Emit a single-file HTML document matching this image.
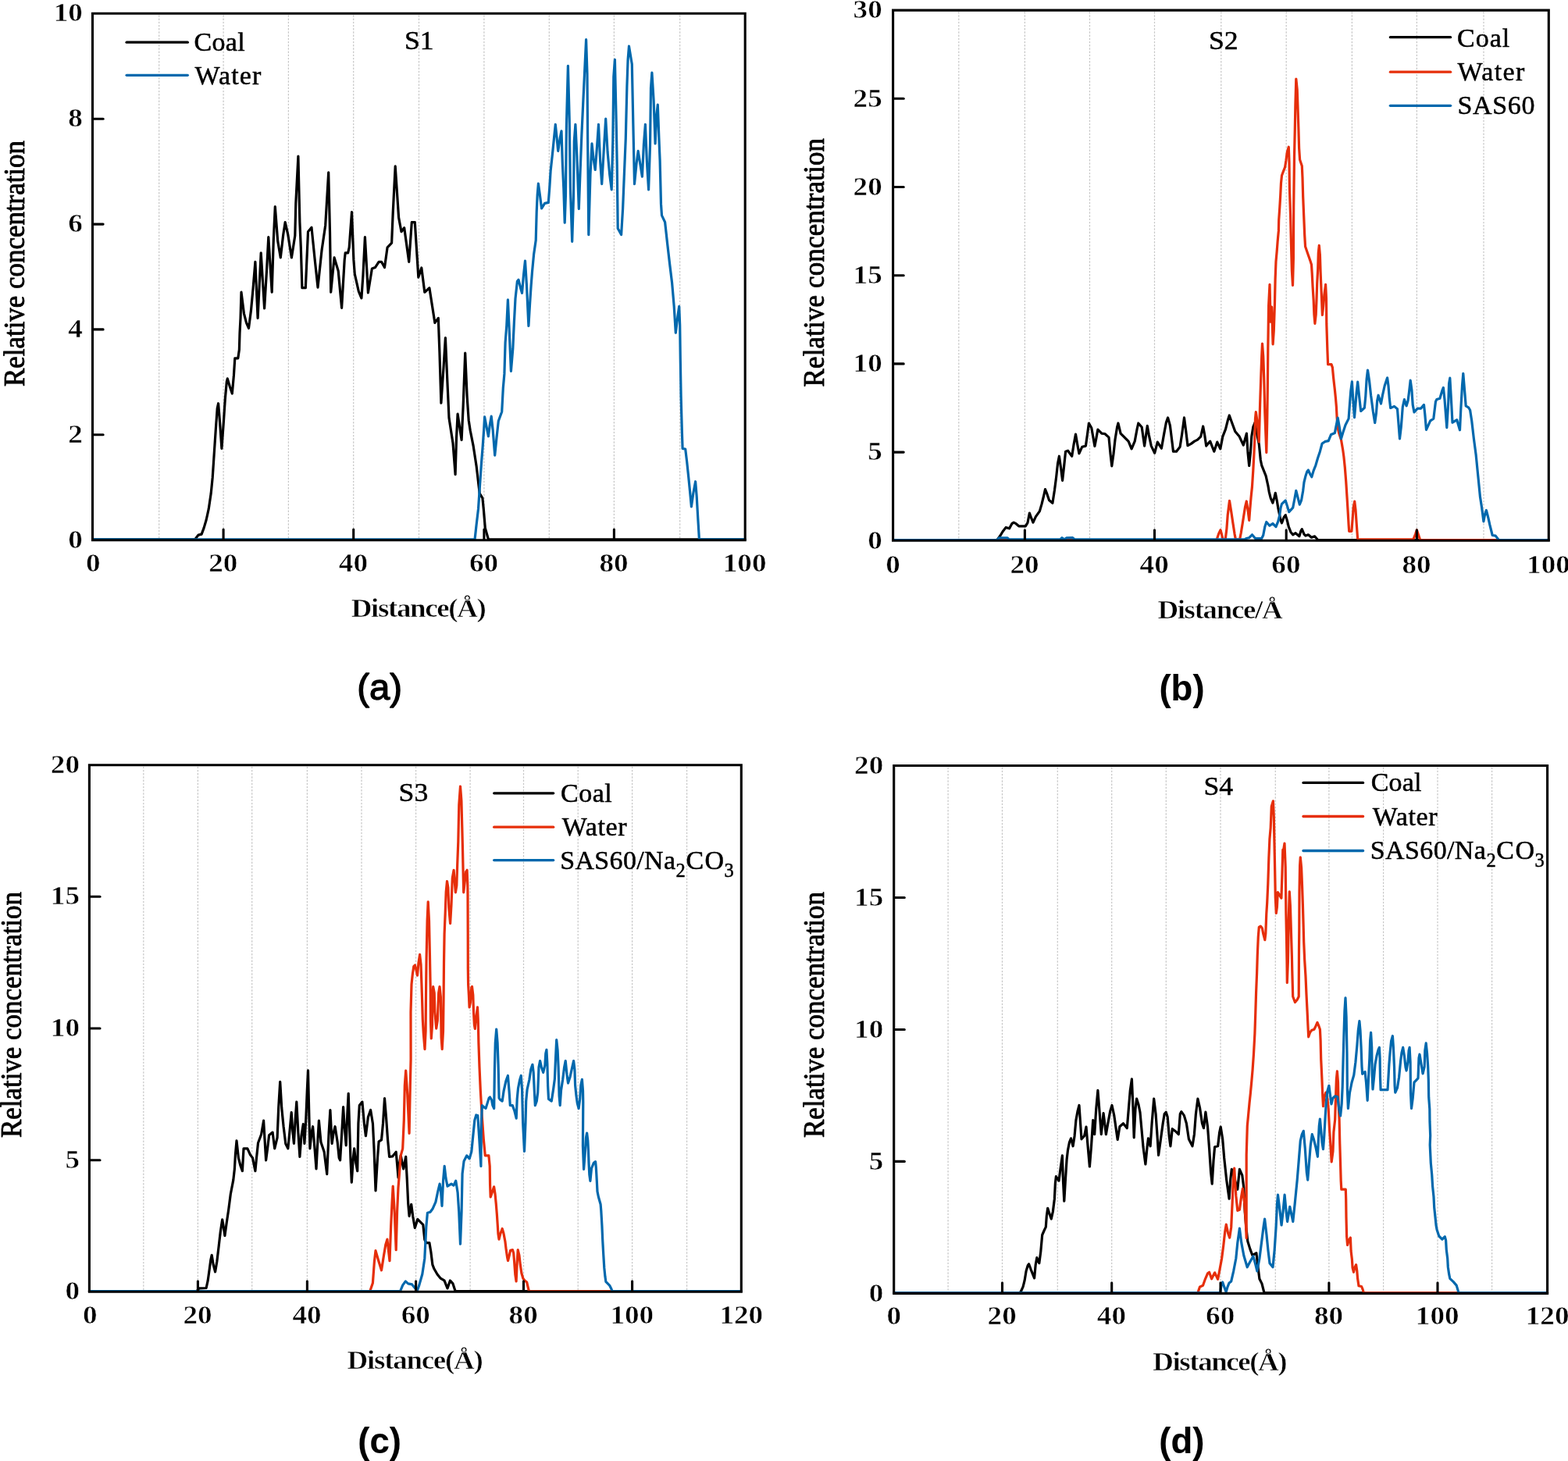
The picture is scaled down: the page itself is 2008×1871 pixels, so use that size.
<!DOCTYPE html>
<html lang="en"><head><meta charset="utf-8"><title>Relative concentration profiles</title>
<style>
html,body{margin:0;padding:0;background:#fff;}
body{width:2008px;height:1871px;overflow:hidden;}
svg{display:block;}
.t{font-family:"Liberation Serif",serif;fill:#000;stroke:#000;stroke-width:0.5px;stroke-linejoin:round;}
.s{font-family:"Liberation Sans",sans-serif;fill:#000;stroke:#000;stroke-linejoin:round;}
.ax{stroke:#000;stroke-width:3.1;fill:none;stroke-linejoin:miter;}
.tk{stroke:#000;stroke-width:3.1;fill:none;stroke-linecap:round;}
.g{stroke:#c6c6c6;stroke-width:1.2;stroke-dasharray:2.4 1.8;fill:none;}
.yl{stroke-width:0.8px;}
.b{font-family:"Liberation Serif",serif;fill:#000;font-weight:bold;stroke:#fff;stroke-width:0.55px;paint-order:fill stroke;}
.c{fill:none;stroke-width:3.2;stroke-linejoin:round;stroke-linecap:round;}
</style></head><body>
<svg width="2008" height="1871" viewBox="0 0 2008 1871" role="img" aria-label="Relative concentration profiles of coal, water and SAS60 along the distance axis for systems S1 to S4">
<rect x="0" y="0" width="2008" height="1871" fill="#ffffff"/>
<g id="panel-a">
<line class="g" x1="203.7" y1="19.3" x2="203.7" y2="689.7"/>
<line class="g" x1="286.1" y1="19.3" x2="286.1" y2="689.7"/>
<line class="g" x1="369.4" y1="19.3" x2="369.4" y2="689.7"/>
<line class="g" x1="452.7" y1="19.3" x2="452.7" y2="689.7"/>
<line class="g" x1="536.5" y1="19.3" x2="536.5" y2="689.7"/>
<line class="g" x1="619.9" y1="19.3" x2="619.9" y2="689.7"/>
<line class="g" x1="703.3" y1="19.3" x2="703.3" y2="689.7"/>
<line class="g" x1="786.4" y1="19.3" x2="786.4" y2="689.7"/>
<line class="g" x1="870.7" y1="19.3" x2="870.7" y2="689.7"/>
<polyline class="c" stroke="#000000" points="118.5,690.9 248,690.9 250.1,690.2 254.1,685.1 258.1,684.1 261.1,676.1 264.1,666 267.2,651.9 270.2,631.8 272.2,611.7 274.2,581.5 276.2,551.3 278.2,523.2 279.6,516.7 281.6,541.3 283.9,574.5 286.3,541.3 288.3,511.1 290.3,489 291.3,484.9 294.3,495 297.3,504 299.4,480.9 300.8,458.8 304.8,458.8 306.4,447.7 307,426.6 308,407.5 309,374.2 312.4,401.3 315.5,413.4 318.5,420.4 321.5,397.3 324.1,369.1 326.9,335.3 330.1,407.4 334.2,323.9 338.6,394.9 341.6,345 343.8,303.7 348.2,374.2 350.3,306.8 352.3,264.5 355.7,308.8 359.3,329.9 362.7,300.7 365.2,284.6 368.8,300.7 373.4,329.9 377.8,301.7 378.8,260.5 381.9,200.1 383.9,284.6 385.3,316.8 386.9,368.7 391.3,368.7 394.5,296.7 399,291.3 403,330.9 407,368.1 412,320.8 416.7,288.7 420.7,220.8 422.5,296.7 423.7,374.2 428.1,329.9 433.2,347 437.6,394.3 441.2,332.9 442.2,323.9 445.6,323.9 447.2,316.8 450.5,271.5 452.9,332.9 454.3,351 459.3,373.2 462.9,381.8 464.9,353 467.4,303.7 471.4,374.8 476.4,344 480.4,342.6 485.1,335.3 488.5,335.3 492.5,342.6 496.1,316.8 501.6,311.2 503.2,272.6 506.2,212.8 510.6,278.6 514,296.7 517.7,291.7 523.7,335.3 527.3,284.6 531.3,284.6 535.8,355.1 539.8,343 543.8,374.2 549.9,368.7 556.9,413.4 561.3,407.4 562.9,450.7 564.9,516.1 568,470.8 570.4,432.6 573,491 575,535.2 580,567.4 583.1,607.7 584.5,561.4 586.1,530.2 591.1,563.4 593.1,521.1 595.7,452.1 598.1,507.1 600.2,538.2 602.2,551.3 606.2,571.4 610.2,597.6 614.2,631.8 617.9,637.8 619.3,651.9 621.3,676.1 625.3,690.2 627,690.9 954.2,690.9"/>
<polyline class="c" stroke="#0068AD" points="118.5,690.9 607,690.9 608.1,690.2 610.1,672.1 612.5,651.9 614.5,621.8 616.6,591.6 618.2,571.4 619.6,551.3 620.6,533.8 623.2,547.3 625.4,558.8 627.4,543.3 629.2,533.2 631.2,551.3 633.7,583.1 635.9,561.4 638.3,539.3 642.7,527.2 644.3,497 645.9,478.9 647.1,438.7 648.8,416.5 650.4,383.9 652,418.5 654.4,475.3 656.8,446.7 658.4,412.5 660,382.3 662.4,360.2 664,358.2 666.5,368.2 668.5,375.3 670.5,352.1 672.5,334 674.5,366.2 676.9,417.5 678.5,390.4 680.1,366.2 681.5,348.1 683.6,325.8 686.2,307.7 687.2,271.4 688.2,249.3 689.4,235.2 691.6,251.3 693.6,267 697.6,260.4 702.3,259.4 703.7,241.3 705.1,219.1 707.7,195 709.7,174.9 711.3,159.4 713.1,176.9 714.7,193.4 717.2,176.9 719,167.8 720.4,211.1 721.8,241.3 723.2,285.1 724.4,251.3 725.4,160.8 727.4,84.3 729.2,152.7 730.4,241.3 732.7,309.3 734.5,251.3 735.3,180.9 736.9,159.4 738.9,201 741.3,267.4 742.9,224.2 744.9,171.9 746.9,128.6 749,84.3 750.6,50.7 752,94.4 752.6,174.9 753.8,300.6 756,223.2 758,183.9 760,203 762.2,217.5 764.6,186.9 766.5,159.4 768.7,207.1 770.7,235.6 773.1,195 775.7,152.1 778.1,195 780.7,223.2 783.2,242.9 784.8,180.9 785.8,98.4 787.4,76.3 789.2,156.8 790.2,211.1 791.2,292.6 795.6,300.6 797.6,267.4 799.3,225.2 801.3,176.9 802.9,110.5 804.1,76.3 805.5,59.2 809.3,82.3 810.9,160.8 812.5,235.6 814.9,211.1 817.2,193.4 820,211.1 822.4,226.2 824.4,184.9 826.4,159.4 828.4,207.1 830.6,242.9 832.5,186.9 833.5,112.5 834.9,93 837.1,128.6 839.1,183.9 840.7,148.7 842.3,134 843.9,176.9 845.1,205.1 846.5,261.4 847.5,275.9 851.6,284.5 854.6,311.7 857.6,337.8 860.6,362.2 863.2,392.4 865.3,426.2 867.7,406.5 869.7,392.4 870.7,416.5 871.3,460.8 872.1,507.1 873.3,551.3 874.1,574.5 877.7,575.1 879.7,591.6 881.8,611.7 883.8,631.8 885.4,648.9 887.8,631.8 890.6,616.7 892.2,635.8 893.8,664 895.4,690.2 897,690.9 954.2,690.9"/>
<path class="ax" d="M118.5 17.3 V691.7 H954.2 V17.3 Z"/>
<line class="tk" x1="119.5" y1="556.8" x2="132.1" y2="556.8"/>
<line class="tk" x1="119.5" y1="421.9" x2="132.1" y2="421.9"/>
<line class="tk" x1="119.5" y1="287.1" x2="132.1" y2="287.1"/>
<line class="tk" x1="119.5" y1="152.2" x2="132.1" y2="152.2"/>
<line class="tk" x1="286.1" y1="690.7" x2="286.1" y2="678.1"/>
<line class="tk" x1="452.7" y1="690.7" x2="452.7" y2="678.1"/>
<line class="tk" x1="619.9" y1="690.7" x2="619.9" y2="678.1"/>
<line class="tk" x1="786.4" y1="690.7" x2="786.4" y2="678.1"/>
<text class="b" transform="translate(105.9 701.8) scale(1.075 1)" font-size="34.6" text-anchor="end">0</text>
<text class="b" transform="translate(105.9 566.9) scale(1.075 1)" font-size="34.6" text-anchor="end">2</text>
<text class="b" transform="translate(105.9 432) scale(1.075 1)" font-size="34.6" text-anchor="end">4</text>
<text class="b" transform="translate(105.9 297.2) scale(1.075 1)" font-size="34.6" text-anchor="end">6</text>
<text class="b" transform="translate(105.9 162.3) scale(1.075 1)" font-size="34.6" text-anchor="end">8</text>
<text class="b" transform="translate(105.9 27.4) scale(1.075 1)" font-size="34.6" text-anchor="end">10</text>
<text class="b" transform="translate(119.4 731.7) scale(1.075 1)" font-size="34.6" text-anchor="middle">0</text>
<text class="b" transform="translate(285.8 731.7) scale(1.075 1)" font-size="34.6" text-anchor="middle">20</text>
<text class="b" transform="translate(452.4 731.7) scale(1.075 1)" font-size="34.6" text-anchor="middle">40</text>
<text class="b" transform="translate(619.6 731.7) scale(1.075 1)" font-size="34.6" text-anchor="middle">60</text>
<text class="b" transform="translate(786.1 731.7) scale(1.075 1)" font-size="34.6" text-anchor="middle">80</text>
<text class="b" transform="translate(953.6 731.7) scale(1.075 1)" font-size="34.6" text-anchor="middle">100</text>
<text class="b" transform="translate(449.8 789.7) scale(1.08 1)" font-size="34.2" textLength="160.2" lengthAdjust="spacing">Distance(Å)</text>
<text class="t yl" transform="translate(31 495) rotate(-90) scale(1 1.08)" font-size="35" textLength="315" lengthAdjust="spacing">Relative concentration</text>
<text class="t" transform="translate(518 62.8) scale(1.05 1)" font-size="34">S1</text>
<line x1="162.1" y1="54.2" x2="240.3" y2="54.2" stroke="#000000" stroke-width="3.3" stroke-linecap="round"/>
<text class="t" x="248.6" y="64.8" font-size="34" textLength="65" lengthAdjust="spacing">Coal</text>
<line x1="162.1" y1="96.3" x2="240.3" y2="96.3" stroke="#0068AD" stroke-width="3.3" stroke-linecap="round"/>
<text class="t" x="249.4" y="108.4" font-size="34" textLength="85" lengthAdjust="spacing">Water</text>
<text class="s" transform="translate(486.1 896.2) scale(1.04 1)" font-size="45.5" text-anchor="middle" font-weight="normal" stroke-width="1.3">(a)</text>
</g>
<g id="panel-b">
<line class="g" x1="1227.8" y1="15.1" x2="1227.8" y2="690.3"/>
<line class="g" x1="1312.4" y1="15.1" x2="1312.4" y2="690.3"/>
<line class="g" x1="1395.5" y1="15.1" x2="1395.5" y2="690.3"/>
<line class="g" x1="1478.5" y1="15.1" x2="1478.5" y2="690.3"/>
<line class="g" x1="1563.8" y1="15.1" x2="1563.8" y2="690.3"/>
<line class="g" x1="1647.2" y1="15.1" x2="1647.2" y2="690.3"/>
<line class="g" x1="1731.4" y1="15.1" x2="1731.4" y2="690.3"/>
<line class="g" x1="1814.4" y1="15.1" x2="1814.4" y2="690.3"/>
<line class="g" x1="1900" y1="15.1" x2="1900" y2="690.3"/>
<polyline class="c" stroke="#000000" points="1143.6,691.5 1276,691.5 1277.1,691.3 1281.1,685.8 1284.1,680.8 1288.2,675.4 1292.6,676.8 1295.8,670.7 1298.2,669.1 1301.2,670.7 1304.7,673.8 1313.3,673.8 1315.9,669.7 1318.4,657.1 1320.4,662.7 1323,669.1 1326.4,661.7 1331.4,654.6 1334,645.6 1336.5,635.5 1338.5,626.5 1340.5,631.5 1343.5,640.6 1347.9,644.2 1350.5,627.5 1352.6,611.4 1354.6,593.3 1356.4,584.2 1358.6,599.3 1360.6,615.4 1362.6,597.3 1364.6,578.2 1367.6,577.2 1372.7,584.2 1375.1,569.1 1377.5,556.1 1379.7,569.1 1381.9,580.8 1385.8,572.2 1390.4,571.1 1392.4,557.1 1394.4,542 1397.8,548 1401.9,571.5 1403.9,561.1 1405.9,550 1410.9,555.1 1414.9,555.5 1420,560.1 1422,581.2 1423.8,596.9 1426,581.2 1428,563.1 1430.6,547 1432,542 1435.1,555.1 1440.1,560.1 1445.1,565.1 1449.1,574.8 1453.2,565.1 1456.2,549 1457.8,542 1462.2,547 1465.6,571.1 1467.6,557.1 1469.3,545.4 1471.3,557.1 1474.3,571.1 1478.7,580.2 1482.3,566.1 1487.4,574.2 1490.4,557.1 1493.4,541 1495.6,534.9 1498.4,545 1500.4,561.1 1502.5,578.2 1506.5,578.2 1511.1,572.2 1513.5,557.1 1516.5,534.9 1518.6,551 1521,570.7 1525.6,568.1 1529.6,565.1 1533.6,563.1 1537.7,559.1 1540.7,546 1542.7,557.1 1544.7,571.1 1549.7,565.1 1554.8,578.2 1558.8,566.1 1562.8,574.8 1565.8,559.1 1569.5,549.6 1572.2,538.8 1574.3,532 1577.7,541.5 1581.7,552.4 1587.2,559.1 1592.3,570 1596.4,555.1 1598,579.5 1599.7,596.5 1601.4,579.5 1602.8,559.1 1604.8,546.9 1606.9,541.5 1609.6,555.1 1612.3,568.7 1614.3,589 1615.7,595.8 1621.1,609.4 1623.8,621.6 1625.2,629.8 1627.2,637.9 1629.9,644 1632,636.6 1633.3,631.4 1635.4,642 1636.7,650.1 1638.1,656.9 1640.1,666.4 1641.5,669.8 1644.2,662.4 1646.2,659.6 1648.3,666.4 1650.3,674.6 1653,681.4 1655.7,684.8 1659.1,682.7 1663.9,686.8 1665.9,680 1667.3,677.7 1670,684.1 1672,686.1 1675.4,684.8 1679.5,688.2 1683.6,686.8 1687.7,691.5 1983.3,691.5"/>
<polyline class="c" stroke="#E62E0A" points="1143.6,691.5 1558,691.5 1560.7,683.4 1563,678.7 1564.8,685.5 1566.1,690.9 1569.2,690.9 1570.9,677.3 1572.2,659.6 1574.5,641.3 1577,656.9 1579,670.5 1581.1,684.1 1582.4,690.9 1587.6,690.9 1589.2,682.7 1591.2,670.5 1593.3,656.9 1594.6,648.8 1596.3,642 1598,652.9 1599.7,666.4 1600.7,652.9 1602.1,636.6 1603.5,623 1604.8,602.6 1605.9,582.2 1606.9,559.1 1607.5,536.1 1608.3,527.6 1610.3,541.5 1612.3,565.9 1613.6,518.4 1614.6,488.5 1615.7,457.3 1616.5,440 1617.7,455.9 1618.7,483.1 1619.8,527.9 1621.8,579.5 1622.7,541.5 1623.3,499.4 1623.8,446.4 1624.6,391.9 1626,364.4 1627.1,412.2 1628.6,393.2 1630.1,440.8 1631.3,423.1 1632.4,390.5 1633.1,357.9 1634,334.8 1635.1,322.6 1636.1,309.7 1637.4,295.4 1637.7,281.9 1638.8,265.6 1639.7,250.6 1640.5,234.3 1641.5,224.8 1643.5,219.4 1645.6,214 1646.9,205.8 1648.3,194.9 1650.3,188.2 1651,207.2 1651.4,241.1 1652.6,276.4 1653.4,310.4 1654.4,347 1655.5,365.4 1656.4,330.7 1656.7,265.6 1657.5,200.4 1658.3,165.1 1658.9,133.8 1659.8,101 1661.2,114.8 1662.1,140.6 1662.9,165.1 1663.6,189.5 1664.6,204.5 1667.3,212.6 1668,227.5 1668.7,252 1669.7,276.4 1670.7,300.9 1671.6,315.8 1675.4,326.7 1678.2,334.8 1679.5,338.9 1680.2,349.8 1681.1,367.4 1682.2,385.1 1682.9,402.7 1683.9,414.3 1685.2,402.7 1686,383.7 1686.7,363.3 1687.7,344.3 1688.3,324 1689.3,314.4 1690.4,326.7 1691.1,348.4 1692,370.1 1693.4,403.4 1694.7,391.9 1695.8,378.3 1697.6,364.4 1698.5,382.4 1698.8,414.9 1699.9,448.9 1700.6,466.6 1705,466.6 1706.4,470.6 1707.4,481.5 1708.3,489.9 1709.4,499.4 1710.5,510.3 1711.4,521.1 1712.1,534.7 1713.2,548.3 1714.8,555.1 1717.5,563.2 1719.6,575.4 1720.9,584.9 1722.3,598.5 1723.7,616.2 1725,636.6 1726,652.9 1727.1,671.9 1727.7,680.3 1730.9,680.3 1732.2,663.7 1733.2,650.1 1734.7,642 1736,652.9 1737.2,670.5 1738.6,689.5 1739.3,690.9 1809.9,690.9 1812.6,684.1 1814.4,678.7 1816.7,685.5 1818.7,691.5 1983.3,691.5"/>
<polyline class="c" stroke="#0068AD" points="1143.6,691.5 1277.1,691.5 1279.1,688.9 1290.2,688.9 1292.2,690.9 1357.6,690.9 1360,688.7 1363,690.9 1365.6,688.9 1373.7,688.7 1376.3,690.9 1594,690.9 1596,689.5 1599.4,688.8 1603.5,684.8 1607.5,689.5 1615.7,689.5 1617.7,685.5 1619.8,674.6 1621.8,668.5 1625.9,673.2 1629.9,670.5 1634,674.6 1636.7,667.8 1638.8,659.6 1640.1,650.1 1641.5,645.4 1646.2,640.9 1648.3,647.4 1650.7,655.6 1655.7,650.1 1657.8,639.3 1659.8,628.4 1661.9,636.6 1664.3,646.1 1666.6,640.6 1668.7,628.4 1670,617.5 1672,609.4 1673.8,604 1675.4,601.9 1677.5,606.7 1679.8,610.8 1682.2,602.6 1684.9,595.8 1687.7,586.3 1690.4,578.2 1693.1,568 1697.2,565.3 1701.2,564.6 1704.6,556.4 1709.4,554.4 1710.8,546.9 1713.2,535.1 1715.5,548.3 1717.5,561.9 1720.3,552.4 1723,544.2 1727.1,536.1 1728.4,518.4 1729.8,500.7 1731.4,488.9 1732.5,507.5 1734.5,534.7 1735.9,518.4 1737.2,502.1 1738.7,489.2 1740.6,507.5 1742.7,526.5 1747.4,522.2 1748.8,507.5 1750.1,485.8 1751.5,474 1753.5,487.2 1755.6,506.2 1758.3,526.5 1760.7,541.5 1762.4,529.3 1763.7,513 1765.1,506.2 1768.5,517 1770.5,506.2 1773.2,494 1776.6,483.8 1778,494 1779.3,510.3 1780.7,522.5 1785.5,520.4 1789.5,523.8 1790.9,541.5 1792.5,561.9 1794.3,546.9 1796.3,521.1 1798.4,511.6 1801.1,519.8 1803.1,513 1804.5,502.1 1806.2,487.2 1807.9,499.4 1809.2,518.4 1811,527.9 1815.3,523.2 1819.4,523.2 1823.5,518.4 1824.8,530.6 1826.5,550.3 1831.7,538.8 1835.8,536.1 1838.5,514.3 1839.9,511.6 1843.9,510.3 1846.7,500.7 1848.4,496.4 1850,511.6 1852.8,547.6 1854.8,514.3 1855.6,491.2 1856.8,484.2 1858.2,507.5 1860,541.2 1865.7,537.7 1869.5,550.7 1870.8,523.8 1872.5,494 1873.8,478.3 1875.4,498 1877.2,519.8 1880.6,521.8 1882.6,525.2 1884.7,538.8 1887.4,561.9 1890.1,582.2 1892.8,609.4 1895.5,636.6 1897.6,650.1 1899.9,667.8 1901.7,658.3 1903.4,653.5 1905.7,662.4 1907.8,671.9 1911.2,685.5 1915.2,686.1 1919.3,691.5 1983.3,691.5"/>
<path class="ax" d="M1143.6 13.1 V692.3 H1983.3 V13.1 Z"/>
<line class="tk" x1="1144.6" y1="579.1" x2="1157.2" y2="579.1"/>
<line class="tk" x1="1144.6" y1="465.9" x2="1157.2" y2="465.9"/>
<line class="tk" x1="1144.6" y1="352.7" x2="1157.2" y2="352.7"/>
<line class="tk" x1="1144.6" y1="239.5" x2="1157.2" y2="239.5"/>
<line class="tk" x1="1144.6" y1="126.3" x2="1157.2" y2="126.3"/>
<line class="tk" x1="1312.4" y1="691.3" x2="1312.4" y2="678.7"/>
<line class="tk" x1="1478.5" y1="691.3" x2="1478.5" y2="678.7"/>
<line class="tk" x1="1647.2" y1="691.3" x2="1647.2" y2="678.7"/>
<line class="tk" x1="1814.4" y1="691.3" x2="1814.4" y2="678.7"/>
<text class="b" transform="translate(1129.8 702.6) scale(1.075 1)" font-size="34.6" text-anchor="end">0</text>
<text class="b" transform="translate(1129.8 589.4) scale(1.075 1)" font-size="34.6" text-anchor="end">5</text>
<text class="b" transform="translate(1129.8 476.2) scale(1.075 1)" font-size="34.6" text-anchor="end">10</text>
<text class="b" transform="translate(1129.8 363) scale(1.075 1)" font-size="34.6" text-anchor="end">15</text>
<text class="b" transform="translate(1129.8 249.8) scale(1.075 1)" font-size="34.6" text-anchor="end">20</text>
<text class="b" transform="translate(1129.8 136.6) scale(1.075 1)" font-size="34.6" text-anchor="end">25</text>
<text class="b" transform="translate(1129.8 23.4) scale(1.075 1)" font-size="34.6" text-anchor="end">30</text>
<text class="b" transform="translate(1143.6 733.8) scale(1.075 1)" font-size="34.6" text-anchor="middle">0</text>
<text class="b" transform="translate(1312.1 733.8) scale(1.075 1)" font-size="34.6" text-anchor="middle">20</text>
<text class="b" transform="translate(1478.2 733.8) scale(1.075 1)" font-size="34.6" text-anchor="middle">40</text>
<text class="b" transform="translate(1646.9 733.8) scale(1.075 1)" font-size="34.6" text-anchor="middle">60</text>
<text class="b" transform="translate(1814.1 733.8) scale(1.075 1)" font-size="34.6" text-anchor="middle">80</text>
<text class="b" transform="translate(1983 733.8) scale(1.075 1)" font-size="34.6" text-anchor="middle">100</text>
<text class="b" transform="translate(1482.4 791.8) scale(1.08 1)" font-size="34.2" textLength="148.3" lengthAdjust="spacing">Distance/Å</text>
<text class="t yl" transform="translate(1055 495.4) rotate(-90) scale(1 1.08)" font-size="35" textLength="318.4" lengthAdjust="spacing">Relative concentration</text>
<text class="t" transform="translate(1547.9 62.6) scale(1.05 1)" font-size="34">S2</text>
<line x1="1780.4" y1="47.7" x2="1857.6" y2="47.7" stroke="#000000" stroke-width="3.3" stroke-linecap="round"/>
<text class="t" x="1866" y="59.6" font-size="34" textLength="67.2" lengthAdjust="spacing">Coal</text>
<line x1="1780.4" y1="92.2" x2="1857.6" y2="92.2" stroke="#E62E0A" stroke-width="3.3" stroke-linecap="round"/>
<text class="t" x="1866.6" y="102.8" font-size="34" textLength="85.8" lengthAdjust="spacing">Water</text>
<line x1="1780.4" y1="135.3" x2="1857.6" y2="135.3" stroke="#0068AD" stroke-width="3.3" stroke-linecap="round"/>
<text class="t" x="1866.6" y="146.2" font-size="34" textLength="98.8" lengthAdjust="spacing">SAS60</text>
<text class="s" transform="translate(1513.5 896.6) scale(1 1)" font-size="45.5" text-anchor="middle" font-weight="bold" stroke-width="0.1">(b)</text>
</g>
<g id="panel-c">
<line class="g" x1="183.8" y1="981.7" x2="183.8" y2="1652.3"/>
<line class="g" x1="253.4" y1="981.7" x2="253.4" y2="1652.3"/>
<line class="g" x1="322.7" y1="981.7" x2="322.7" y2="1652.3"/>
<line class="g" x1="393.4" y1="981.7" x2="393.4" y2="1652.3"/>
<line class="g" x1="463" y1="981.7" x2="463" y2="1652.3"/>
<line class="g" x1="532.6" y1="981.7" x2="532.6" y2="1652.3"/>
<line class="g" x1="602.1" y1="981.7" x2="602.1" y2="1652.3"/>
<line class="g" x1="670.5" y1="981.7" x2="670.5" y2="1652.3"/>
<line class="g" x1="740.2" y1="981.7" x2="740.2" y2="1652.3"/>
<line class="g" x1="809.6" y1="981.7" x2="809.6" y2="1652.3"/>
<line class="g" x1="879.6" y1="981.7" x2="879.6" y2="1652.3"/>
<polyline class="c" stroke="#000000" points="114.4,1653.5 251,1653.5 252.1,1653.3 255.1,1649.9 264.1,1649.5 266.2,1639.9 268.2,1625.8 269.8,1613.7 271.2,1607.3 273.2,1619.7 275.6,1628.8 277.8,1615.7 280.2,1595.6 282.3,1577.5 284.7,1561.8 286.3,1571.4 287.9,1582.5 290.3,1565.4 292.7,1549.3 295.3,1529.2 298.8,1511.1 300.4,1497 301.4,1478.9 303,1460.8 305.4,1482.9 308,1493 310.4,1499.6 312,1470.8 316.9,1470.8 320.5,1478.9 323.5,1482.9 326.9,1499.6 328.5,1482.9 330.5,1463.8 334.6,1452.7 337.6,1435.2 339,1458.8 340.6,1485.9 342.6,1470.8 344.6,1453.7 349.1,1450.1 351.7,1470.8 355.1,1456.8 356.7,1418.5 358.7,1385.3 360.7,1418.5 363.1,1442.7 365.8,1464.8 368.8,1470.8 370.8,1450.7 373.2,1424.6 374.8,1448.7 376.4,1464.4 378.4,1430.6 379.8,1411.1 381.9,1450.7 383.9,1481.3 385.9,1454.7 388.3,1439.7 389.9,1464.4 391.9,1430.6 393.3,1396.4 394.5,1370.8 395.9,1430.6 396.9,1470.8 399,1450.7 400.6,1442.7 403,1470.8 405,1497 407,1458.8 408.4,1435.2 411,1462.8 415.1,1474.9 418.7,1503.6 421.1,1450.7 422.9,1421.5 425.1,1464.4 427.1,1450.7 429.1,1442.7 432.2,1462.8 434.2,1482.9 435.6,1485.9 438.2,1442.7 439.6,1417.5 441.2,1442.7 443.2,1466.8 444.8,1426.6 446.2,1400.4 447.6,1442.7 448.9,1482.9 450.3,1514.1 452.3,1482.9 453.7,1470.8 455.7,1489 457.7,1499.6 458.9,1438.7 460.3,1415.5 463.9,1411.1 466.4,1438.7 468.4,1454.7 471.4,1430.6 474.6,1421.5 477.4,1438.7 479,1470.8 481,1524.8 483.5,1482.9 485.1,1461.8 488.5,1459.8 490.5,1438.7 492.5,1406.5 494.5,1430.6 496.5,1458.8 498.6,1481.3 502.6,1480.9 507.2,1475.3 508.6,1491 510,1508.1 511.6,1489 513.2,1479.9 516.7,1497 519.7,1481.3 521.3,1511.1 522.7,1541.3 524.1,1557.4 526.7,1542.3 528.7,1557.4 531.3,1572.5 534.8,1561.4 538.8,1565.4 541.8,1568.4 543.8,1587.5 545.8,1591.6 549.9,1591.6 551.9,1603.6 553.9,1619.7 555.9,1624.8 559.9,1631.8 563.9,1636.8 569,1639.9 573,1649.9 576.4,1639.9 580,1643.9 583.1,1653.5 949.3,1653.5"/>
<polyline class="c" stroke="#E62E0A" points="114.4,1653.5 473.8,1653.5 477.4,1642.9 479.4,1615.7 481,1601.6 484.5,1613.7 488.5,1626.8 491.5,1607.7 493.9,1593.6 495.9,1587.1 499,1614.7 500.6,1571.4 502,1541.3 503.2,1519.1 505.2,1551.3 507.2,1600.6 508.6,1551.3 510,1521.1 511.6,1501 513.2,1479.9 515.7,1470.8 517.3,1434.6 518.3,1390.4 519.7,1371.2 521.7,1400.4 524.1,1451.3 525.3,1390.4 526.1,1356.2 526,1296.1 527,1260.7 528.4,1247.2 529.8,1237.7 531.4,1236 533.2,1243.1 534.5,1249.2 535.9,1233.6 537.6,1222.4 539,1234.9 539.9,1259.4 540.6,1281.1 541.3,1305.6 542.3,1323.2 544,1343.6 545.1,1320.5 545.5,1274.3 546.1,1226.8 547.1,1179.3 548.2,1154.8 549.5,1179.3 550.4,1221.4 551.2,1264.8 551.5,1306.9 552.3,1330 553.5,1312.4 553.9,1274.3 554.7,1263.5 556.2,1271.6 556.9,1296.1 558.7,1317.1 560.3,1306.9 561.7,1271.6 563,1263.5 564.4,1277 565.1,1328.7 566.2,1343.6 567.5,1320.5 568.1,1275.7 568.5,1233.6 569.1,1196.4 570.2,1169.3 571.2,1142.1 572.5,1128.5 573.9,1136.7 574.8,1162.5 576.6,1182.6 578,1158.4 578.7,1140.8 579.3,1124.5 581.1,1114.3 582,1125.8 583.4,1142.8 584.8,1134 585.7,1106.8 586.8,1078.3 587.8,1030.7 589.5,1007 590.9,1025.3 591.8,1059.3 592.6,1091.9 593.3,1125.8 593.7,1142.8 595.6,1125.8 596.7,1116.3 598.1,1114.3 598.8,1132.6 599,1144.8 599.2,1193.7 599.3,1240.4 599.6,1260.7 600.4,1274.3 601.1,1289.9 602.4,1283.8 603.8,1264.8 604.5,1263.5 605.8,1274.3 606.5,1296.1 607.4,1312.4 608.3,1317.5 609.9,1301.5 611.5,1289.9 612.3,1306.9 612.9,1335.4 614,1366.7 615.3,1396.4 617.3,1430.6 619.3,1458.8 621.3,1479.9 625.9,1479.9 627.2,1493.3 627.6,1517.8 628.2,1533 630.6,1525.9 632.6,1519.8 634,1528.7 635.3,1542.2 636.4,1555.8 637.3,1569.4 638,1580.3 639,1587.1 640.7,1580.3 643.2,1573.5 644.8,1578.9 646.9,1589.8 648.2,1600.6 649.6,1610.1 650.5,1614.5 652.3,1607.4 653.6,1601.3 656.4,1600.6 657.7,1604.7 658.7,1616.9 659.8,1631.9 661.1,1641 662.2,1616.9 663.2,1600.6 664.9,1607.4 666.3,1619.6 667.9,1630.5 669.9,1637.3 672,1640 674.7,1642.1 676.1,1648.2 677.4,1653.5 949.3,1653.5"/>
<polyline class="c" stroke="#0068AD" points="114.4,1653.5 512.6,1653.5 515.7,1645.9 519.3,1640.9 522.7,1643.9 527.7,1644.9 531.8,1649.9 534.2,1653.3 536.8,1645.9 540.8,1631.8 543.8,1611.7 545.8,1571.4 547.4,1553.3 550.9,1552.3 553.9,1548.3 557.9,1539.3 560.9,1525.2 563.1,1516.1 564.3,1523.2 566,1544.3 567.6,1511.1 569.2,1493.4 571,1509.1 573,1519.1 578,1516.1 581,1518.1 583.7,1512.1 586.1,1527.2 587.7,1551.3 589.5,1593.2 591.1,1551.3 592.1,1503 594.1,1486.9 597.7,1479.9 601.2,1483.9 603.8,1474.9 605.8,1454.7 607.8,1434.6 609.8,1428 611.8,1428.6 613.8,1458.8 615.9,1493.4 616.4,1437.3 617.4,1415.6 619.4,1417.6 622.1,1419.4 624.1,1412.9 626.2,1406.1 627.5,1405 629.6,1408.8 630.9,1415.6 632.7,1419.6 633.4,1369.4 634.3,1335.4 635.7,1318.1 637.1,1335.4 638.1,1364 639.1,1406.1 640.4,1408.1 643.2,1410.1 645.2,1396.6 647.9,1384.3 650.4,1377.5 652,1396.6 653.3,1415.6 656.3,1415.6 658.8,1422.4 661.2,1432.1 662.2,1407.4 663.5,1393.8 665.6,1383 667.3,1377.5 668.6,1396.6 669.6,1437.3 671.5,1474.4 673,1437.3 673.7,1410.1 675.1,1395.2 677.8,1383 679.8,1369.4 681.9,1363.3 683.2,1373.5 684.3,1396.6 685.3,1415.6 687.3,1410.1 688.7,1399.3 690,1366.7 691.6,1358.5 693.4,1366.7 695.7,1373.5 697.9,1364 698.8,1349 699.9,1344.3 700.9,1362.6 701.6,1389.8 702.5,1407.4 706.3,1410.1 708.4,1396.6 710.4,1381.6 711.5,1355.8 712.7,1331.6 714.1,1344.9 715.1,1366.7 716.1,1403.3 717.2,1415.6 718.5,1396.6 720.6,1383 722.6,1366.7 724.2,1358.5 726,1376.2 727.5,1387.1 730.1,1378.9 732.8,1366.7 734.6,1358.5 735.9,1369.4 736.6,1389.8 738,1403.3 739.3,1412.9 741.1,1419.6 742.7,1407.4 743.8,1389.8 745.4,1382.3 746.5,1396.6 746.8,1411.5 746.4,1467.5 747.6,1497.4 749.4,1474.3 750.5,1456.7 751.6,1451 752.8,1460.7 753.5,1474.3 754.1,1490.6 754.8,1504.2 755.9,1512.4 757.5,1496.1 760.3,1489.3 762.6,1487.6 763.4,1496.1 764.3,1512.4 765,1525.9 766.4,1532.7 769.1,1542.2 769.8,1550.4 770.9,1569.4 771.8,1589.8 772.8,1607.4 773.8,1623.7 774.9,1634.6 775.9,1641.4 780.6,1646.1 782.7,1650.2 784,1653.5 949.3,1653.5"/>
<path class="ax" d="M114.4 979.7 V1654.3 H949.3 V979.7 Z"/>
<line class="tk" x1="115.4" y1="1485.7" x2="128" y2="1485.7"/>
<line class="tk" x1="115.4" y1="1317" x2="128" y2="1317"/>
<line class="tk" x1="115.4" y1="1148.3" x2="128" y2="1148.3"/>
<line class="tk" x1="253.4" y1="1653.3" x2="253.4" y2="1640.7"/>
<line class="tk" x1="393.4" y1="1653.3" x2="393.4" y2="1640.7"/>
<line class="tk" x1="532.6" y1="1653.3" x2="532.6" y2="1640.7"/>
<line class="tk" x1="670.5" y1="1653.3" x2="670.5" y2="1640.7"/>
<line class="tk" x1="809.6" y1="1653.3" x2="809.6" y2="1640.7"/>
<text class="b" transform="translate(102 1664.4) scale(1.075 1)" font-size="34.6" text-anchor="end">0</text>
<text class="b" transform="translate(102 1495.8) scale(1.075 1)" font-size="34.6" text-anchor="end">5</text>
<text class="b" transform="translate(102 1327.1) scale(1.075 1)" font-size="34.6" text-anchor="end">10</text>
<text class="b" transform="translate(102 1158.4) scale(1.075 1)" font-size="34.6" text-anchor="end">15</text>
<text class="b" transform="translate(102 989.8) scale(1.075 1)" font-size="34.6" text-anchor="end">20</text>
<text class="b" transform="translate(115.3 1694.6) scale(1.075 1)" font-size="34.6" text-anchor="middle">0</text>
<text class="b" transform="translate(253.1 1694.6) scale(1.075 1)" font-size="34.6" text-anchor="middle">20</text>
<text class="b" transform="translate(393.1 1694.6) scale(1.075 1)" font-size="34.6" text-anchor="middle">40</text>
<text class="b" transform="translate(532.3 1694.6) scale(1.075 1)" font-size="34.6" text-anchor="middle">60</text>
<text class="b" transform="translate(670.2 1694.6) scale(1.075 1)" font-size="34.6" text-anchor="middle">80</text>
<text class="b" transform="translate(809.3 1694.6) scale(1.075 1)" font-size="34.6" text-anchor="middle">100</text>
<text class="b" transform="translate(949.3 1694.6) scale(1.075 1)" font-size="34.6" text-anchor="middle">120</text>
<text class="b" transform="translate(444.6 1753.4) scale(1.08 1)" font-size="34.2" textLength="161.3" lengthAdjust="spacing">Distance(Å)</text>
<text class="t yl" transform="translate(27 1457) rotate(-90) scale(1 1.08)" font-size="35" textLength="315" lengthAdjust="spacing">Relative concentration</text>
<text class="t" transform="translate(510.6 1025.7) scale(1.05 1)" font-size="34">S3</text>
<line x1="632.7" y1="1015.8" x2="708.7" y2="1015.8" stroke="#000000" stroke-width="3.3" stroke-linecap="round"/>
<text class="t" x="718.1" y="1026.9" font-size="34" textLength="65.6" lengthAdjust="spacing">Coal</text>
<line x1="632.7" y1="1059.2" x2="708.7" y2="1059.2" stroke="#E62E0A" stroke-width="3.3" stroke-linecap="round"/>
<text class="t" x="719.7" y="1070.1" font-size="34" textLength="82.9" lengthAdjust="spacing">Water</text>
<line x1="632.7" y1="1101.6" x2="708.7" y2="1101.6" stroke="#0068AD" stroke-width="3.3" stroke-linecap="round"/>
<text class="t" y="1112.8" font-size="34"><tspan x="717.2" textLength="147.8" lengthAdjust="spacing">SAS60/Na</tspan><tspan x="865.5" dy="10" font-size="24.5">2</tspan><tspan x="878.4" dy="-10" textLength="48.6" lengthAdjust="spacing">CO</tspan><tspan x="927.5" dy="10" font-size="24.5">3</tspan></text>
<text class="s" transform="translate(486.1 1861) scale(1 1)" font-size="45.5" text-anchor="middle" font-weight="bold" stroke-width="0.1">(c)</text>
</g>
<g id="panel-d">
<line class="g" x1="1214.1" y1="982.5" x2="1214.1" y2="1654.4"/>
<line class="g" x1="1283.5" y1="982.5" x2="1283.5" y2="1654.4"/>
<line class="g" x1="1354.3" y1="982.5" x2="1354.3" y2="1654.4"/>
<line class="g" x1="1423.7" y1="982.5" x2="1423.7" y2="1654.4"/>
<line class="g" x1="1493.3" y1="982.5" x2="1493.3" y2="1654.4"/>
<line class="g" x1="1563" y1="982.5" x2="1563" y2="1654.4"/>
<line class="g" x1="1633.3" y1="982.5" x2="1633.3" y2="1654.4"/>
<line class="g" x1="1701.9" y1="982.5" x2="1701.9" y2="1654.4"/>
<line class="g" x1="1771.6" y1="982.5" x2="1771.6" y2="1654.4"/>
<line class="g" x1="1841" y1="982.5" x2="1841" y2="1654.4"/>
<line class="g" x1="1910.6" y1="982.5" x2="1910.6" y2="1654.4"/>
<polyline class="c" stroke="#000000" points="1144.7,1655.6 1305,1655.6 1307.1,1654.5 1310.1,1647.9 1312.1,1639.9 1314.1,1627.8 1316.2,1620.7 1317.6,1618.7 1320.2,1625.8 1324.6,1636.8 1326.2,1619.7 1327.8,1610.7 1330.8,1617.7 1332.7,1603.6 1334.7,1581.5 1337.3,1575.5 1339.3,1571.4 1340.3,1557.4 1341.7,1547.3 1344.3,1555.4 1346.3,1561 1348.4,1551.3 1350.4,1535.2 1351.4,1515.1 1352.4,1506.7 1356,1512.1 1358,1497 1360.4,1479.9 1361.4,1511.1 1362.8,1538.2 1364.4,1511.1 1366.1,1484.9 1367.5,1472.9 1369.5,1462.8 1371.5,1457.8 1374.1,1467.8 1376.1,1454.7 1377.9,1434.6 1380.1,1422.6 1382,1415.5 1383.6,1438.7 1385,1458.8 1388.6,1454.7 1391,1443.1 1393,1466.8 1395.4,1494 1397.6,1466.8 1399.7,1434.6 1401.7,1452.7 1403.7,1420.5 1405.9,1396.4 1408.3,1426.6 1410.3,1452.7 1413.1,1425.6 1416.4,1452.7 1418.8,1438.7 1421.8,1422.6 1424,1415.5 1426.8,1428.6 1428.8,1442.7 1431.2,1459.4 1433.9,1442.7 1438.5,1438.7 1443.3,1444.7 1445.3,1420.5 1447.3,1396.4 1449.4,1381.9 1451,1418.5 1452.2,1456.8 1454,1420.5 1455.6,1407.1 1458,1414.5 1460,1424.6 1462,1446.7 1464,1468.8 1466.9,1491 1469.1,1468.8 1470.5,1457.8 1473.1,1467.8 1475.1,1438.7 1477.7,1407.1 1480.1,1426.6 1482.2,1456.8 1483.6,1479.3 1486.2,1460.8 1489.2,1438.7 1491.2,1426.6 1493.2,1424.2 1495.2,1430.6 1497.2,1454.7 1498.9,1467.8 1501.3,1445.7 1505.3,1448.7 1509.3,1452.7 1511.3,1426.6 1512.9,1423.6 1516.4,1428.6 1519.4,1438.7 1522.4,1458.8 1527,1467.8 1529.4,1452.7 1531.4,1426.6 1533.9,1407.1 1536.5,1418.5 1539.5,1438.7 1541.5,1444.7 1543.9,1424.2 1546.5,1442.7 1548.6,1470.8 1550.6,1501 1552.2,1516.1 1554,1486.9 1555.6,1468.8 1559.6,1467.8 1561.6,1450.7 1563.2,1443.1 1565.7,1458.8 1567.7,1482.9 1570.7,1511.1 1574.1,1535.2 1575.7,1511.1 1577.3,1497.4 1579.7,1505.1 1584.8,1523.2 1587.4,1497.4 1590.8,1505.1 1592.8,1521.1 1594.2,1551.3 1595.8,1571.4 1597.8,1589.6 1600.9,1599.6 1603.9,1607.7 1608.9,1604.6 1610.9,1621.8 1612.9,1637.8 1616,1643.9 1618,1651.9 1619,1655.6 1981.6,1655.6"/>
<polyline class="c" stroke="#E62E0A" points="1144.7,1655.6 1533.9,1655.6 1536.5,1647.9 1540.5,1646.3 1543.5,1637.8 1546.5,1630.8 1548.6,1629.2 1551.6,1637.8 1555.6,1629.8 1559.6,1638.2 1562,1625.8 1564.6,1611.7 1566.7,1595.6 1568.7,1577.5 1570.3,1568 1572.7,1579.5 1574.7,1585.1 1576.7,1571.4 1578.1,1541.3 1579.3,1511.1 1580.7,1496 1582.8,1531.2 1584.8,1550.3 1587.4,1549.3 1589.8,1531.2 1591.4,1522.2 1593.8,1541.3 1595.4,1567.4 1596.2,1585.5 1596.2,1478.9 1597.3,1441.9 1598.7,1426.9 1600.1,1412 1601.4,1399.8 1602.8,1384.8 1604.1,1369.9 1605.5,1349.5 1606.9,1323.7 1607.8,1296.5 1608.6,1270.7 1609.6,1246.3 1610.3,1222.7 1611.3,1199.6 1612.3,1187.4 1614.3,1186.1 1616.4,1188.8 1617.7,1195.6 1619.8,1203.7 1620.8,1195.6 1621.8,1169.8 1622.7,1156.2 1623.8,1131.7 1624.9,1097.8 1625.9,1074.7 1627.2,1059.8 1628.3,1032.6 1630.4,1025.8 1631.3,1046.2 1632,1080.1 1632.7,1115.4 1633.3,1149.4 1634.3,1169.5 1635.4,1161.6 1636.3,1142.6 1638.8,1146.7 1640.9,1150.1 1641.8,1123.6 1642.8,1088.3 1643.9,1086.9 1645,1080.1 1646.2,1110 1646.5,1135.8 1646.9,1169.8 1647.6,1206.4 1648,1230.9 1648.3,1258.5 1649.4,1230.9 1650.3,1176.6 1651.3,1141.9 1652.4,1160.3 1653.4,1192.9 1654.4,1225.5 1654.8,1243.6 1655.7,1276.2 1658.5,1283.6 1661.2,1280.3 1663.2,1276.2 1663.5,1217.3 1663.8,1190.1 1664,1142.6 1664.6,1108.7 1665.3,1097.8 1666.6,1111.4 1667.6,1135.8 1668.4,1158.9 1669.1,1183.3 1669.7,1206.4 1670.7,1229.5 1672,1250.4 1673,1273.5 1674.1,1295.2 1675.2,1318.3 1675.7,1327.8 1677.5,1322.4 1679.5,1319.6 1682.9,1318.3 1684.9,1314.2 1687,1309.5 1689,1314.2 1690.4,1318.3 1691.1,1331.9 1691.7,1356.3 1692.8,1379.4 1693.8,1403.8 1694.5,1416.7 1695.8,1405.2 1697.9,1399.1 1699.9,1406.6 1701.2,1420.1 1702.6,1447.3 1704,1467.7 1705.2,1487.9 1707,1474.3 1707.9,1449.9 1709.7,1433.6 1710.5,1406.6 1711.4,1382.1 1712.4,1371.9 1713.5,1386.2 1714.1,1413.3 1715.1,1433.7 1715.8,1464.8 1716.5,1487.9 1717.2,1512.4 1717.8,1523.2 1723.3,1523.2 1723.7,1535.4 1724,1558.5 1724.6,1583 1725.6,1594.5 1727.3,1588.4 1729.4,1585 1730.1,1602 1731.4,1612.9 1732.1,1623.7 1733.5,1629.2 1734.8,1623.7 1736.6,1619.6 1737.8,1627.8 1738.6,1637.3 1740,1646.8 1743.6,1647.5 1745,1650.9 1746.4,1655.6 1981.6,1655.6"/>
<polyline class="c" stroke="#0068AD" points="1144.7,1655.6 1562.6,1655.6 1564,1645.9 1565.7,1641.9 1567.7,1647.9 1570.1,1654.5 1572.1,1647.9 1574.1,1642.9 1576.7,1640.9 1579.7,1627.8 1582.8,1611.7 1584.8,1591.6 1587.4,1573.1 1589.8,1591.6 1592.8,1607.7 1597.2,1622.8 1600.9,1615.7 1604.9,1608.7 1607.9,1619.7 1609.9,1627.8 1612.9,1611.7 1616,1587.5 1618,1571.4 1619.6,1561 1622,1581.5 1624,1601.6 1626,1617.7 1630,1622.8 1632.1,1601.6 1634.1,1571.4 1635.5,1541.3 1636.5,1530.2 1639.1,1551.3 1641.1,1569 1643.1,1551.3 1645.1,1530.2 1647.1,1551.3 1648.6,1564.4 1651.8,1545.3 1655.8,1564.4 1658.2,1541.3 1661.2,1511.1 1663.2,1486.9 1665.3,1460.8 1667.3,1452.7 1669.3,1448.3 1671.3,1470.8 1673.3,1501 1674.7,1511.1 1676.3,1491 1678.3,1466.8 1680.3,1452.7 1682.2,1458.2 1684.9,1469 1687.4,1481.3 1688.3,1460.9 1689.3,1441.9 1690.4,1433 1691.7,1447.3 1693.1,1463.6 1694.5,1471.7 1695.8,1454.1 1697.2,1429.6 1698.5,1409.3 1699.9,1397.1 1701.9,1390.3 1703.3,1401.1 1705,1414 1706.7,1406.6 1709.4,1403.8 1712.8,1404.5 1714.8,1420.1 1716.6,1429 1718.2,1413.3 1719.2,1391.6 1720,1360.4 1720.9,1327.8 1721.9,1295.2 1723,1277.9 1724.1,1302 1725,1349.5 1725.4,1395.7 1726.4,1419.5 1728.4,1399.8 1731.1,1386.2 1733.8,1376.7 1735.9,1360.4 1737.9,1338.7 1739.3,1319.6 1740.9,1307.7 1742,1319.6 1743.1,1341.4 1744,1365.8 1744.7,1375.3 1748.1,1372.6 1749.5,1386.2 1751.2,1409.3 1752.6,1379.4 1753.9,1354.9 1754.6,1333.2 1755.6,1322.4 1756.7,1341.4 1757.2,1376.7 1758,1395 1759.6,1379.4 1761,1363.1 1763,1352.2 1765.1,1344.1 1766.4,1341.4 1767.1,1354.9 1767.5,1379.4 1768.1,1395.7 1777,1395.7 1778,1379.4 1778.9,1363.1 1780,1349.5 1781.6,1333.2 1783.4,1326.7 1784.4,1341.4 1785.5,1365.8 1786.1,1390.3 1786.8,1399.1 1789.5,1393 1791.6,1379.4 1793.6,1359 1795,1348.2 1796.7,1341.4 1798.4,1352.2 1800.1,1367.2 1801.1,1371 1803.1,1359 1804.1,1345.4 1805.1,1341.4 1806.1,1360.4 1806.5,1399.8 1807.5,1419.5 1809.2,1406.6 1811,1386.2 1816,1380.8 1817,1354.9 1818,1350.2 1820.1,1363.1 1822.1,1375 1824.2,1365.8 1824.8,1345.4 1826.2,1335.9 1827.6,1349.5 1828.7,1365.8 1829.3,1382.1 1829.7,1405.2 1830.8,1420.1 1831,1436.4 1831.7,1454.1 1831.2,1466.2 1832.3,1489.3 1833.7,1504.2 1834.6,1519.1 1836,1532.7 1836.7,1546.3 1838,1558.5 1839.1,1569.4 1840.1,1574.8 1842.8,1583 1846.9,1587.1 1850.3,1583.7 1851.6,1588.4 1852.3,1600.6 1853.7,1611.5 1854.3,1622.4 1855.7,1631.9 1856.8,1637.3 1861.1,1641.4 1865.2,1646.1 1867.2,1652.9 1867.9,1655.6 1981.6,1655.6"/>
<path class="ax" d="M1144.7 980.5 V1656.4 H1981.6 V980.5 Z"/>
<line class="tk" x1="1145.7" y1="1487.4" x2="1158.3" y2="1487.4"/>
<line class="tk" x1="1145.7" y1="1318.5" x2="1158.3" y2="1318.5"/>
<line class="tk" x1="1145.7" y1="1149.5" x2="1158.3" y2="1149.5"/>
<line class="tk" x1="1283.5" y1="1655.4" x2="1283.5" y2="1642.8"/>
<line class="tk" x1="1423.7" y1="1655.4" x2="1423.7" y2="1642.8"/>
<line class="tk" x1="1563" y1="1655.4" x2="1563" y2="1642.8"/>
<line class="tk" x1="1701.9" y1="1655.4" x2="1701.9" y2="1642.8"/>
<line class="tk" x1="1841" y1="1655.4" x2="1841" y2="1642.8"/>
<text class="b" transform="translate(1131.3 1666.5) scale(1.075 1)" font-size="34.6" text-anchor="end">0</text>
<text class="b" transform="translate(1131.3 1497.5) scale(1.075 1)" font-size="34.6" text-anchor="end">5</text>
<text class="b" transform="translate(1131.3 1328.5) scale(1.075 1)" font-size="34.6" text-anchor="end">10</text>
<text class="b" transform="translate(1131.3 1159.6) scale(1.075 1)" font-size="34.6" text-anchor="end">15</text>
<text class="b" transform="translate(1131.3 990.6) scale(1.075 1)" font-size="34.6" text-anchor="end">20</text>
<text class="b" transform="translate(1144.7 1696.4) scale(1.075 1)" font-size="34.6" text-anchor="middle">0</text>
<text class="b" transform="translate(1283.2 1696.4) scale(1.075 1)" font-size="34.6" text-anchor="middle">20</text>
<text class="b" transform="translate(1423.4 1696.4) scale(1.075 1)" font-size="34.6" text-anchor="middle">40</text>
<text class="b" transform="translate(1562.7 1696.4) scale(1.075 1)" font-size="34.6" text-anchor="middle">60</text>
<text class="b" transform="translate(1701.6 1696.4) scale(1.075 1)" font-size="34.6" text-anchor="middle">80</text>
<text class="b" transform="translate(1840.7 1696.4) scale(1.075 1)" font-size="34.6" text-anchor="middle">100</text>
<text class="b" transform="translate(1981.6 1696.4) scale(1.075 1)" font-size="34.6" text-anchor="middle">120</text>
<text class="b" transform="translate(1476.3 1754.8) scale(1.08 1)" font-size="34.2" textLength="159.5" lengthAdjust="spacing">Distance(Å)</text>
<text class="t yl" transform="translate(1055 1457) rotate(-90) scale(1 1.08)" font-size="35" textLength="315" lengthAdjust="spacing">Relative concentration</text>
<text class="t" transform="translate(1541.5 1017.5) scale(1.05 1)" font-size="34">S4</text>
<line x1="1669" y1="1002.4" x2="1745.6" y2="1002.4" stroke="#000000" stroke-width="3.3" stroke-linecap="round"/>
<text class="t" x="1755.8" y="1013.4" font-size="34" textLength="64.6" lengthAdjust="spacing">Coal</text>
<line x1="1669" y1="1045.5" x2="1745.6" y2="1045.5" stroke="#E62E0A" stroke-width="3.3" stroke-linecap="round"/>
<text class="t" x="1757.7" y="1056.6" font-size="34" textLength="82.9" lengthAdjust="spacing">Water</text>
<line x1="1669" y1="1089.5" x2="1745.6" y2="1089.5" stroke="#0068AD" stroke-width="3.3" stroke-linecap="round"/>
<text class="t" y="1100.1" font-size="34"><tspan x="1754.8" textLength="148.1" lengthAdjust="spacing">SAS60/Na</tspan><tspan x="1903.4" dy="10" font-size="24.5">2</tspan><tspan x="1916.3" dy="-10" textLength="48.7" lengthAdjust="spacing">CO</tspan><tspan x="1965.5" dy="10" font-size="24.5">3</tspan></text>
<text class="s" transform="translate(1513.3 1861.2) scale(1 1)" font-size="45.5" text-anchor="middle" font-weight="bold" stroke-width="0.1">(d)</text>
</g>
</svg>
</body></html>
